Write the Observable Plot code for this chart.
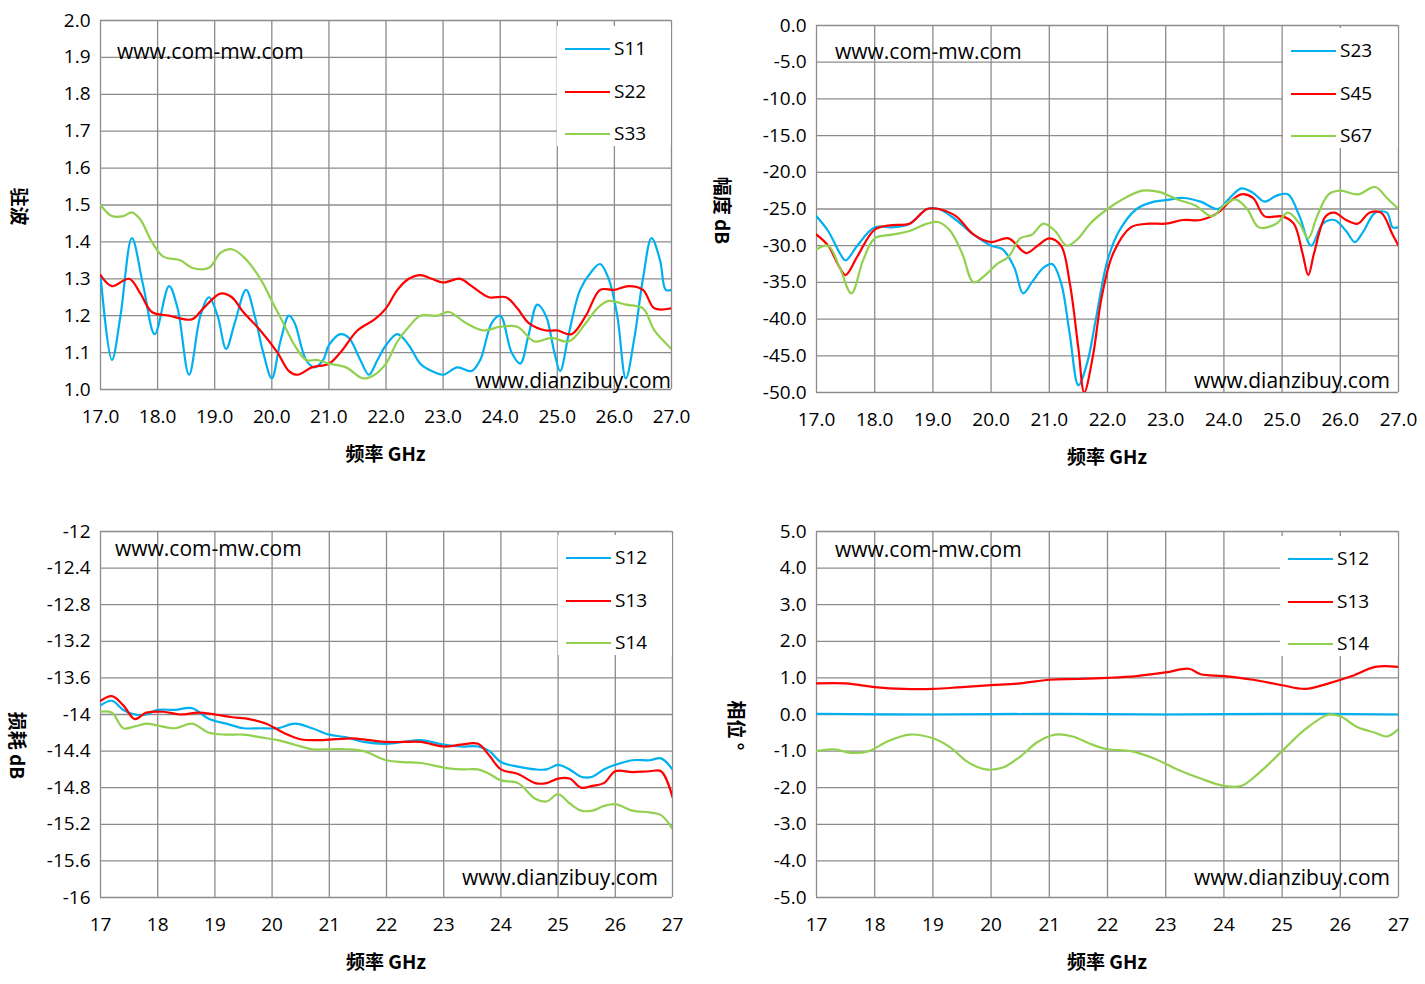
<!DOCTYPE html>
<html><head><meta charset="utf-8">
<script src="https://cdn.jsdelivr.net/npm/d3@7"></script>
<script src="https://cdn.jsdelivr.net/npm/@observablehq/plot@0.6"></script>
<style>
body{margin:0;background:#fff;font-family:"Open Sans","Liberation Sans",sans-serif;}
#root{position:relative;width:1425px;height:984px;overflow:hidden;}
.abs{position:absolute;white-space:nowrap;}
.wm{font-size:21px;color:#000;line-height:24px;}
.xl{font-size:19px;font-weight:bold;font-family:"Noto Sans CJK SC",sans-serif;}
.yl{font-size:19px;font-weight:bold;font-family:"Noto Sans CJK SC",sans-serif;transform:rotate(90deg);transform-origin:center center;}
.lg{background:#fff;}
.lgt{font-size:19px;line-height:22px;}
</style></head><body><div id="root"></div>
<script>
const colors = ["#00B0F0","#FF0000","#92D050"];
const xTicks = [17,18,19,20,21,22,23,24,25,26,27];

// Panel 1: VSWR
const vswrNames = ["S11","S22","S33"];
const s11 = [[17.0,1.31],[17.2,1.08],[17.35,1.2],[17.55,1.41],[17.75,1.28],[17.95,1.15],[18.2,1.28],[18.35,1.22],[18.55,1.04],[18.75,1.2],[18.9,1.25],[19.05,1.2],[19.2,1.11],[19.35,1.18],[19.55,1.27],[19.7,1.2],[19.85,1.1],[20.0,1.03],[20.15,1.13],[20.3,1.2],[20.4,1.18],[20.6,1.08],[20.75,1.06],[20.9,1.08],[21.0,1.12],[21.2,1.15],[21.35,1.14],[21.55,1.08],[21.7,1.04],[21.85,1.08],[22.0,1.12],[22.2,1.15],[22.4,1.12],[22.6,1.07],[22.8,1.05],[23.0,1.04],[23.25,1.06],[23.5,1.05],[23.65,1.08],[23.85,1.18],[24.0,1.2],[24.2,1.1],[24.35,1.07],[24.5,1.15],[24.65,1.23],[24.8,1.2],[24.95,1.1],[25.05,1.05],[25.2,1.15],[25.4,1.27],[25.6,1.32],[25.75,1.34],[25.9,1.3],[26.05,1.2],[26.2,1.03],[26.35,1.14],[26.5,1.3],[26.65,1.41],[26.8,1.35],[26.9,1.27],[27.0,1.27]];
const s22 = [[17,1.31],[17.2,1.28],[17.5,1.30],[17.7,1.26],[17.9,1.21],[18.2,1.20],[18.6,1.19],[18.8,1.22],[19.1,1.26],[19.3,1.25],[19.5,1.21],[19.8,1.16],[20.1,1.10],[20.3,1.05],[20.45,1.04],[20.7,1.06],[21.0,1.07],[21.2,1.10],[21.5,1.16],[21.8,1.19],[22.0,1.22],[22.2,1.27],[22.4,1.3],[22.6,1.31],[22.8,1.30],[23.0,1.29],[23.3,1.30],[23.5,1.28],[23.8,1.25],[24.1,1.25],[24.3,1.22],[24.5,1.18],[24.8,1.16],[25.0,1.16],[25.25,1.15],[25.5,1.20],[25.75,1.27],[26.0,1.27],[26.25,1.28],[26.5,1.27],[26.7,1.22],[27.0,1.22]];
const s33 = [[17,1.5],[17.2,1.47],[17.4,1.47],[17.55,1.48],[17.7,1.46],[17.9,1.40],[18.1,1.36],[18.4,1.35],[18.6,1.33],[18.9,1.33],[19.1,1.37],[19.3,1.38],[19.5,1.36],[19.8,1.30],[20.0,1.24],[20.2,1.18],[20.4,1.12],[20.6,1.08],[20.8,1.08],[21.0,1.07],[21.3,1.06],[21.6,1.03],[21.8,1.04],[22.0,1.07],[22.2,1.13],[22.4,1.17],[22.6,1.20],[22.9,1.20],[23.1,1.21],[23.4,1.18],[23.7,1.16],[24.0,1.17],[24.3,1.17],[24.6,1.13],[24.9,1.14],[25.2,1.13],[25.5,1.18],[25.7,1.22],[25.9,1.24],[26.2,1.23],[26.5,1.22],[26.7,1.16],[27,1.11]];

// Panel 2: amplitude dB
const ampNames = ["S23","S45","S67"];
const s23 = [[17,-26],[17.2,-28],[17.4,-31],[17.5,-32],[17.7,-30],[18.0,-27.5],[18.3,-27.5],[18.6,-27],[18.9,-25],[19.1,-25],[19.4,-26.5],[19.7,-28.5],[20.0,-30],[20.2,-30.5],[20.4,-33],[20.55,-36.5],[20.7,-35],[20.9,-33],[21.05,-32.5],[21.2,-35],[21.35,-42],[21.5,-49],[21.65,-46],[21.8,-40],[22.0,-32],[22.2,-28],[22.5,-25],[22.8,-24],[23.0,-23.8],[23.3,-23.5],[23.6,-24],[23.9,-25],[24.1,-23.5],[24.3,-22.2],[24.5,-22.8],[24.7,-24],[24.9,-23.2],[25.1,-23],[25.3,-26],[25.5,-30],[25.7,-27],[25.9,-26.5],[26.1,-28],[26.25,-29.5],[26.4,-28],[26.6,-25.5],[26.8,-25.5],[26.9,-27.5],[27,-27.5]];
const s45 = [[17,-28.5],[17.2,-30],[17.4,-33],[17.5,-34],[17.7,-31.5],[18.0,-27.8],[18.3,-27.2],[18.6,-27],[18.9,-25],[19.1,-25],[19.4,-26],[19.7,-28.5],[20.0,-29.5],[20.3,-29],[20.6,-31],[20.8,-30],[21.0,-29],[21.2,-30],[21.35,-35],[21.5,-44],[21.6,-50],[21.75,-45],[21.9,-37],[22.1,-31],[22.4,-27.5],[22.7,-27],[23.0,-27],[23.3,-26.5],[23.6,-26.5],[23.9,-25.5],[24.1,-24],[24.3,-23],[24.5,-23.5],[24.7,-26],[25.0,-26],[25.2,-27],[25.35,-31],[25.45,-34],[25.55,-31],[25.75,-26],[25.9,-25.5],[26.1,-26.5],[26.3,-27],[26.5,-25.5],[26.7,-25.5],[26.9,-28.5],[27,-30]];
const s67 = [[17,-30.5],[17.2,-30],[17.4,-33],[17.6,-36.5],[17.8,-32],[18.0,-29],[18.3,-28.5],[18.6,-28],[18.9,-27],[19.1,-26.8],[19.3,-28],[19.5,-31],[19.7,-35],[19.9,-34],[20.1,-32.5],[20.3,-31.5],[20.5,-29],[20.7,-28.5],[20.9,-27],[21.1,-28],[21.3,-30],[21.5,-29],[21.7,-27],[22.0,-25],[22.3,-23.5],[22.6,-22.5],[22.9,-22.7],[23.2,-23.7],[23.5,-24.5],[23.8,-26],[24.0,-24.5],[24.2,-23.7],[24.4,-25],[24.6,-27.5],[24.9,-27],[25.1,-25.5],[25.3,-27],[25.45,-29],[25.6,-26],[25.8,-23],[26.0,-22.5],[26.3,-23],[26.6,-22],[26.8,-23.5],[27,-25]];

// Panel 3: loss dB
const lossNames = ["S12","S13","S14"];
const l12 = [[17,-13.9],[17.2,-13.85],[17.4,-13.95],[17.6,-14.0],[17.8,-14.0],[18.0,-13.95],[18.3,-13.95],[18.6,-13.93],[18.9,-14.05],[19.2,-14.1],[19.5,-14.15],[19.8,-14.15],[20.1,-14.15],[20.4,-14.1],[20.7,-14.15],[21.0,-14.22],[21.3,-14.25],[21.6,-14.3],[22.0,-14.32],[22.3,-14.3],[22.6,-14.28],[23.0,-14.33],[23.3,-14.35],[23.6,-14.35],[23.8,-14.4],[24.0,-14.52],[24.3,-14.57],[24.6,-14.6],[24.8,-14.6],[25.0,-14.55],[25.2,-14.6],[25.4,-14.68],[25.6,-14.68],[25.8,-14.6],[26.0,-14.55],[26.3,-14.5],[26.6,-14.5],[26.8,-14.48],[27,-14.6]];
const l13 = [[17,-13.85],[17.2,-13.8],[17.4,-13.9],[17.6,-14.05],[17.8,-13.98],[18.1,-13.97],[18.4,-14.0],[18.7,-13.98],[19.0,-14.0],[19.3,-14.03],[19.6,-14.05],[19.9,-14.1],[20.2,-14.2],[20.5,-14.27],[20.8,-14.28],[21.1,-14.27],[21.4,-14.26],[21.7,-14.28],[22.0,-14.3],[22.3,-14.3],[22.6,-14.3],[23.0,-14.35],[23.3,-14.33],[23.6,-14.32],[23.8,-14.45],[24.0,-14.6],[24.3,-14.65],[24.6,-14.75],[24.8,-14.75],[25.0,-14.7],[25.2,-14.7],[25.4,-14.8],[25.6,-14.78],[25.8,-14.75],[26.0,-14.62],[26.3,-14.63],[26.6,-14.62],[26.8,-14.62],[27,-14.9]];
const l14 = [[17,-13.97],[17.2,-13.98],[17.4,-14.15],[17.6,-14.13],[17.8,-14.1],[18.0,-14.12],[18.3,-14.15],[18.6,-14.1],[18.9,-14.2],[19.2,-14.22],[19.5,-14.22],[19.8,-14.25],[20.1,-14.28],[20.4,-14.33],[20.7,-14.38],[21.0,-14.38],[21.3,-14.38],[21.6,-14.4],[22.0,-14.5],[22.3,-14.52],[22.6,-14.53],[23.0,-14.58],[23.3,-14.6],[23.6,-14.6],[23.8,-14.65],[24.0,-14.72],[24.3,-14.75],[24.6,-14.92],[24.8,-14.95],[25.0,-14.87],[25.2,-14.97],[25.4,-15.05],[25.6,-15.05],[25.8,-15.0],[26.0,-14.98],[26.3,-15.05],[26.6,-15.07],[26.8,-15.1],[27,-15.25]];

// Panel 4: phase °
const phaseNames = ["S12","S13","S14"];
const p12 = [[17,0.02],[19,0.0],[21,0.02],[23,0.0],[25,0.02],[27,0.0]];
const p13 = [[17,0.85],[17.5,0.85],[18.0,0.75],[18.5,0.7],[19.0,0.7],[19.5,0.75],[20.0,0.8],[20.5,0.85],[21.0,0.95],[21.5,0.97],[22.0,1.0],[22.5,1.05],[23.0,1.15],[23.4,1.25],[23.6,1.1],[24.0,1.05],[24.5,0.95],[25.0,0.8],[25.4,0.7],[25.8,0.85],[26.2,1.05],[26.6,1.3],[27,1.3]];
const p14 = [[17,-1.0],[17.3,-0.95],[17.6,-1.05],[17.9,-1.0],[18.2,-0.75],[18.6,-0.55],[19.0,-0.65],[19.3,-0.9],[19.6,-1.3],[19.9,-1.5],[20.2,-1.45],[20.5,-1.15],[20.8,-0.75],[21.1,-0.55],[21.4,-0.6],[21.7,-0.8],[22.0,-0.95],[22.4,-1.0],[22.8,-1.2],[23.2,-1.5],[23.6,-1.75],[24.0,-1.95],[24.3,-1.95],[24.6,-1.6],[25.0,-1.0],[25.4,-0.4],[25.8,0.0],[26.0,-0.05],[26.3,-0.35],[26.6,-0.5],[26.8,-0.6],[27,-0.4]];

const root = document.getElementById("root");
function div(cls, css, html){const d=document.createElement("div");d.className="abs "+cls;Object.assign(d.style,css);d.innerHTML=html||"";root.appendChild(d);return d;}

function panel(cfg){
  const m = [];
  m.push(Plot.gridX(xTicks,{stroke:"#8c8c8c",strokeOpacity:1,strokeWidth:1.3}));
  m.push(Plot.gridY(cfg.yTicks,{stroke:"#8c8c8c",strokeOpacity:1,strokeWidth:1.3}));
  cfg.series.forEach((s,i)=>m.push(Plot.line(s,{x:d=>d[0],y:d=>d[1],stroke:colors[i],strokeWidth:2.2,curve:"catmull-rom",clip:true})));
  m.push(Plot.axisX(xTicks,{tickSize:0,tickPadding:20,tickFormat:cfg.xFmt,label:null}));
  m.push(Plot.axisY(cfg.yTicks,{tickSize:0,tickPadding:10,tickFormat:cfg.yFmt,label:null}));
  const p = Plot.plot({width:cfg.w,height:cfg.h,marginLeft:cfg.ml,marginRight:cfg.mr,marginTop:cfg.mt,marginBottom:cfg.mb,
    x:{domain:[17,27]},y:{domain:cfg.yDomain},
    style:{fontSize:"19px",fontFamily:"'Open Sans','Liberation Sans',sans-serif",color:"#000",background:"transparent",overflow:"visible"},
    marks:m});
  p.style.position="absolute";p.style.left=cfg.left+"px";p.style.top=cfg.top+"px";
  root.appendChild(p);
  const fx0=cfg.left+cfg.ml, fx1=cfg.left+cfg.w-cfg.mr, fy0=cfg.top+cfg.mt, fy1=cfg.top+cfg.h-cfg.mb;
  // x label
  div("xl",{left:((fx0+fx1)/2-50)+"px",width:"100px",textAlign:"center",top:(fy1+50)+"px"},"频率 GHz");
  // y label
  div("yl",{left:(cfg.left+cfg.yLabX-60)+"px",width:"120px",textAlign:"center",top:((fy0+fy1)/2-12+cfg.yLabDy)+"px"},cfg.yTitle);
  // watermarks
  div("wm",{left:(fx0+cfg.wm1dx)+"px",top:(fy0+cfg.wm1dy)+"px"},"www.com-mw.com");
  div("wm",{right:(1425-fx1+cfg.wm2dx)+"px",top:(fy1-cfg.wm2dy)+"px"},"www.dianzibuy.com");
  // legend
  div("lg",{left:(fx1-cfg.lgW)+"px",width:cfg.lgW+"px",top:(fy0+cfg.lgTop)+"px",height:"120px"},"");
  cfg.names.forEach((n,i)=>{
    const y=fy0+cfg.lgTop+cfg.lgY0+i*42.5;
    div("",{left:(fx1-cfg.lgW+8)+"px",width:"45px",height:"2px",background:colors[i],top:y+"px"},"");
    div("lgt",{left:(fx1-cfg.lgW+57)+"px",top:(y-11)+"px"},n);
  });
}

const f1=d=>d.toFixed(1);
panel({left:0,top:0,w:700,h:470,ml:100,mr:29,mt:20,mb:81,yDomain:[1,2],yTicks:d3.range(0,11).map(i=>1+i/10),xFmt:f1,yFmt:f1,
  series:[s11,s22,s33],names:vswrNames,yTitle:"驻波",yLabX:20,yLabDy:0,wm1dx:17,wm1dy:19,wm2dx:0,wm2dy:21,lgW:114,lgTop:6,lgY0:22});
panel({left:715,top:0,w:710,h:475,ml:101,mr:27,mt:25,mb:83,yDomain:[-50,0],yTicks:d3.range(0,11).map(i=>-50+5*i),xFmt:f1,yFmt:f1,
  series:[s23,s45,s67],names:ampNames,yTitle:"幅度 dB",yLabX:8,yLabDy:0,wm1dx:19,wm1dy:14,wm2dx:8,wm2dy:24,lgW:115,lgTop:3,lgY0:22});
panel({left:0,top:500,w:700,h:484,ml:100,mr:28,mt:31,mb:87,yDomain:[-16,-12],yTicks:d3.range(0,11).map(i=>-16+0.4*i),xFmt:d=>String(d),yFmt:d=>String(+d.toFixed(1)),
  series:[l12,l13,l14],names:lossNames,yTitle:"损耗 dB",yLabX:18,yLabDy:30,wm1dx:15,wm1dy:5,wm2dx:14,wm2dy:32,lgW:114,lgTop:4,lgY0:22});
panel({left:715,top:500,w:710,h:484,ml:101,mr:27,mt:31,mb:87,yDomain:[-5,5],yTicks:d3.range(-5,6),xFmt:d=>String(d),yFmt:f1,
  series:[p12,p13,p14],names:phaseNames,yTitle:"相位 °",yLabX:22,yLabDy:10,wm1dx:19,wm1dy:6,wm2dx:8,wm2dy:32,lgW:118,lgTop:5,lgY0:22});
</script></body></html>
